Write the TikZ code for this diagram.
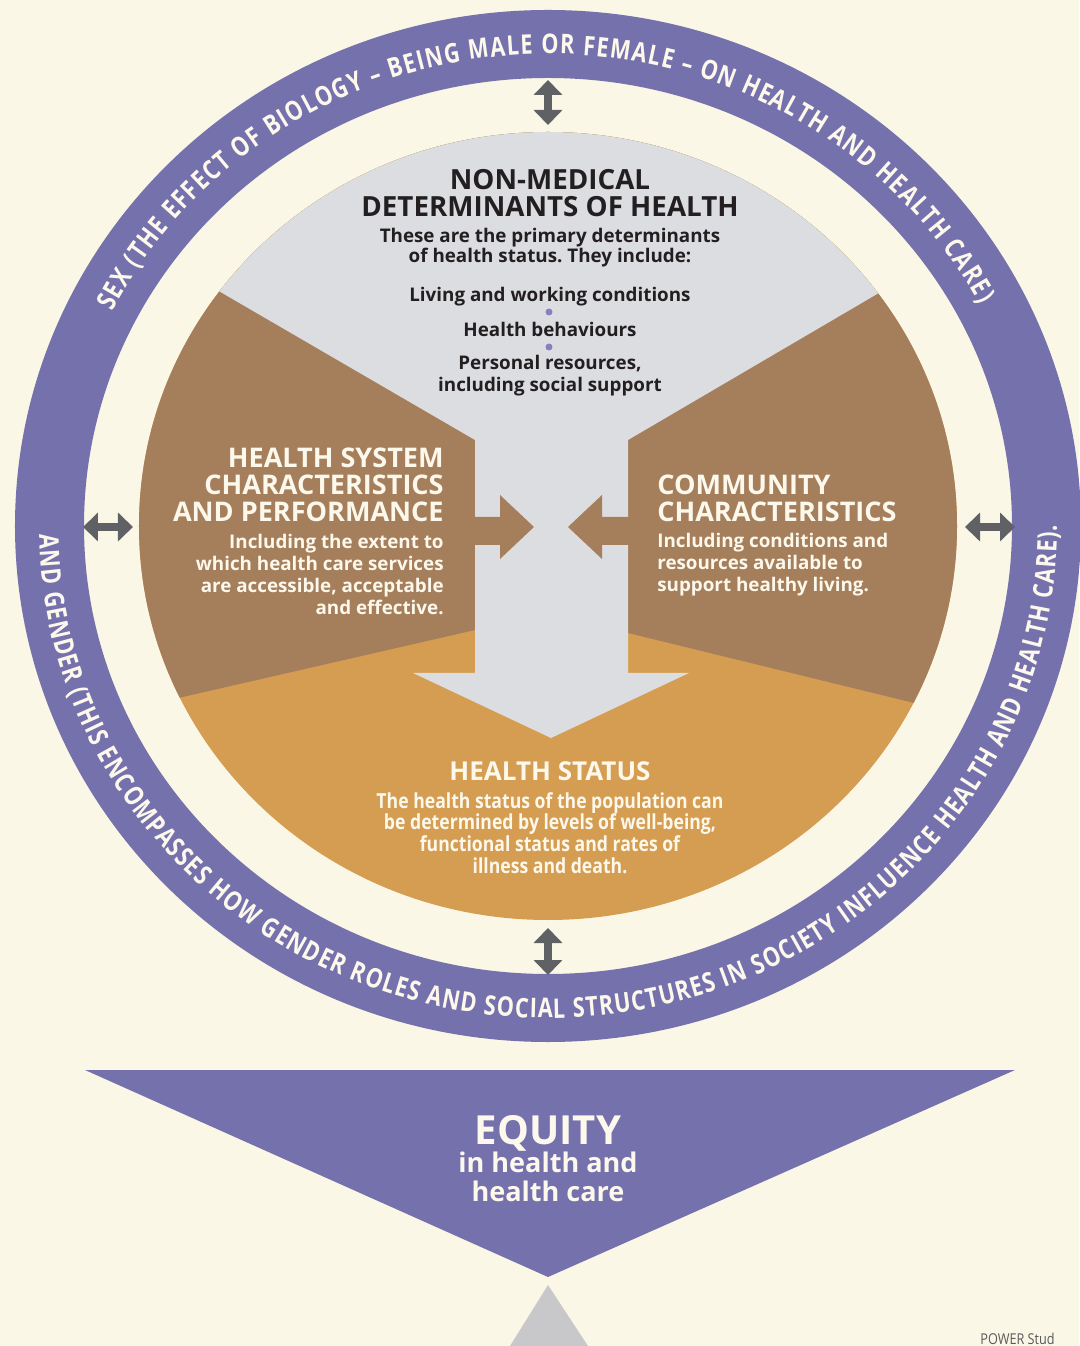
\documentclass[tikz,border=0pt]{standalone}
\usepackage{fontspec}
\setmainfont{Open Sans}
\newfontfamily\narrowfont[FakeStretch=0.85]{Open Sans}
\newfontfamily\ringfamily[FakeStretch=0.8]{Open Sans}
\usepackage{xcolor}
\usetikzlibrary{calc,arrows.meta,decorations.text}

\definecolor{bgcream}{RGB}{250,247,230}
\definecolor{ringpurple}{RGB}{117,113,173}
\definecolor{discgray}{RGB}{220,221,224}
\definecolor{discbrown}{RGB}{165,127,92}
\definecolor{discorange}{RGB}{213,157,82}
\definecolor{inkdark}{RGB}{35,31,32}
\definecolor{inklight}{RGB}{253,248,236}
\definecolor{arrowgray}{RGB}{96,97,101}
\definecolor{dotpurple}{RGB}{134,128,190}
\definecolor{tipgray}{RGB}{200,200,203}
\definecolor{creditgray}{RGB}{90,90,90}

\newcommand{\ringfont}{\ringfamily\bfseries\fontsize{15.4pt}{16pt}\selectfont\color{inklight}}

\begin{document}
\frenchspacing
\begin{tikzpicture}[x=0.2mm,y=0.2mm,
		txt/.style={inner sep=0pt,anchor=base},
		head/.style={txt,font=\fontsize{15.8pt}{16pt}\selectfont\bfseries},
		sidehead/.style={txt,font=\fontsize{15.4pt}{16pt}\selectfont\bfseries},
		body/.style={txt,font=\fontsize{10.7pt}{12pt}\selectfont\bfseries},
		narrowbody/.style={txt,font=\narrowfont\fontsize{11.8pt}{13pt}\selectfont\bfseries},
		twoway/.style={draw=arrowgray,line width=1.6mm,>={Triangle[length=3mm,width=5.6mm]},<->}]
	\useasboundingbox (-548,-820) rectangle (531,526);
	\fill[bgcream] (-548,-820) rectangle (531,526);
	\coordinate (O) at (0,0);
	
	\fill[ringpurple,even odd rule] (O) ellipse[x radius=533,y radius=516] (O) ellipse[x radius=464,y radius=448];
	
	\path[decorate,decoration={text along path,text align={fit to path},
		text={|\ringfont|SEX (THE EFFECT OF BIOLOGY – BEING MALE OR FEMALE – ON HEALTH AND HEALTH CARE)}}]
		(153:489 and 472) arc[start angle=153,end angle=28,x radius=489,y radius=472];
	\path[decorate,decoration={text along path,text align={fit to path},
		text={|\ringfont|AND GENDER (THIS ENCOMPASSES HOW GENDER ROLES AND SOCIAL STRUCTURES IN SOCIETY INFLUENCE HEALTH AND HEALTH CARE).}}]
		(181:509 and 492) arc[start angle=181,end angle=360,x radius=509,y radius=492];
	
	\fill[discorange] (O) ellipse[x radius=409,y radius=394];
	\begin{scope}
		\clip (O) ellipse[x radius=409,y radius=394];
		\fill[discbrown] (-448,-190) -- (-73,-104) -- (80,-107) -- (452,-198) -- (452,450) -- (-448,450) -- cycle;
		\fill[discgray] (-448,304) -- (-73,86) -- (-73,-147) -- (-135,-147) -- (3,-212) -- (141,-147)
			-- (80,-147) -- (80,86) -- (452,304) -- (452,450) -- (-448,450) -- cycle;
	\end{scope}
	
	\fill[discbrown] (-80,9) -- (-48,9) -- (-48,31) -- (-14,-1) -- (-48,-33) -- (-48,-19) -- (-80,-19) -- cycle;
	\fill[discbrown] (87,9) -- (54,9) -- (54,31) -- (20,-1) -- (54,-33) -- (54,-19) -- (87,-19) -- cycle;
	
	\coordinate (ringN) at (0,446);
	\coordinate (discN) at (0,401);
	\coordinate (ringS) at (0,-449);
	\coordinate (discS) at (0,-402);
	\coordinate (ringW) at (-465,-1);
	\coordinate (discW) at (-415,-1);
	\coordinate (ringE) at (467,-1);
	\coordinate (discE) at (417,-1);
	\foreach \s in {N,S,W,E}{
		\draw[twoway] (disc\s) -- (ring\s);}
	
	\foreach \t [count=\i] in {NON-MEDICAL,DETERMINANTS OF HEALTH}
		\node[head,text=inkdark] (nmh\i) at (2,{336-27*(\i-1)}) {\t};
	\foreach \t [count=\i] in {These are the primary determinants,of health status. They include:}
		\node[body,text=inkdark] (nmb\i) at (2,{283-20*(\i-1)}) {\t};
	\foreach \t/\y [count=\i] in {Living and working conditions/224,Health behaviours/189,{Personal resources,}/156,including social support/134}
		\node[body,text=inkdark] (nml\i) at (2,\y) {\t};
	\foreach \y in {214,179}
		\fill[dotpurple] (1,\y) circle[radius=3.5];
	
	\foreach \t [count=\i] in {HEALTH SYSTEM,CHARACTERISTICS,AND PERFORMANCE}
		\node[sidehead,text=inklight,anchor=base east] (hsh\i) at (-104,{58-27*(\i-1)}) {\t};
	\foreach \t [count=\i] in {Including the extent to,which health care services,{are accessible, acceptable},and effective.}
		\node[body,text=inklight,anchor=base east] (hsb\i) at (-104,{-23-22*(\i-1)}) {\t};
	
	\foreach \t [count=\i] in {COMMUNITY,CHARACTERISTICS}
		\node[sidehead,text=inklight,anchor=base west] (cch\i) at (109,{31-27*(\i-1)}) {\t};
	\foreach \t [count=\i] in {Including conditions and,resources available to,support healthy living.}
		\node[body,text=inklight,anchor=base west] (ccb\i) at (109,{-22-22*(\i-1)}) {\t};
	
	\node[txt,text=inklight,font=\fontsize{14.8pt}{16pt}\selectfont\bfseries] (hst) at (2,-255) {HEALTH STATUS};
	\foreach \t [count=\i] in {The health status of the population can,{be determined by levels of well-being,},functional status and rates of,illness and death.}
		\node[narrowbody,text=inklight] (hsd\i) at (2,{-282-21.7*(\i-1)}) {\t};
	
	\coordinate (eqL) at (-463,-544);
	\coordinate (eqR) at (467,-544);
	\coordinate (eqT) at (0,-751);
	\fill[ringpurple] (eqL) -- (eqR) -- (eqT) -- cycle;
	\fill[tipgray] (0,-759) -- (40,-820) -- (-38,-820) -- cycle;
	
	\node[txt,text=inklight,font=\fontsize{22.8pt}{24pt}\selectfont\bfseries] (eqh) at (0,-618) {EQUITY};
	\foreach \t [count=\i] in {in health and,health care}
		\node[txt,text=inklight,font=\fontsize{15.4pt}{16pt}\selectfont\bfseries] (eqb\i) at (0,{-646-29*(\i-1)}) {\t};
	
	\node[txt,anchor=base west,text=creditgray,font=\narrowfont\fontsize{8.5pt}{10pt}\selectfont] (credit) at (432,-818) {POWER Stud};
\end{tikzpicture}
\end{document}
